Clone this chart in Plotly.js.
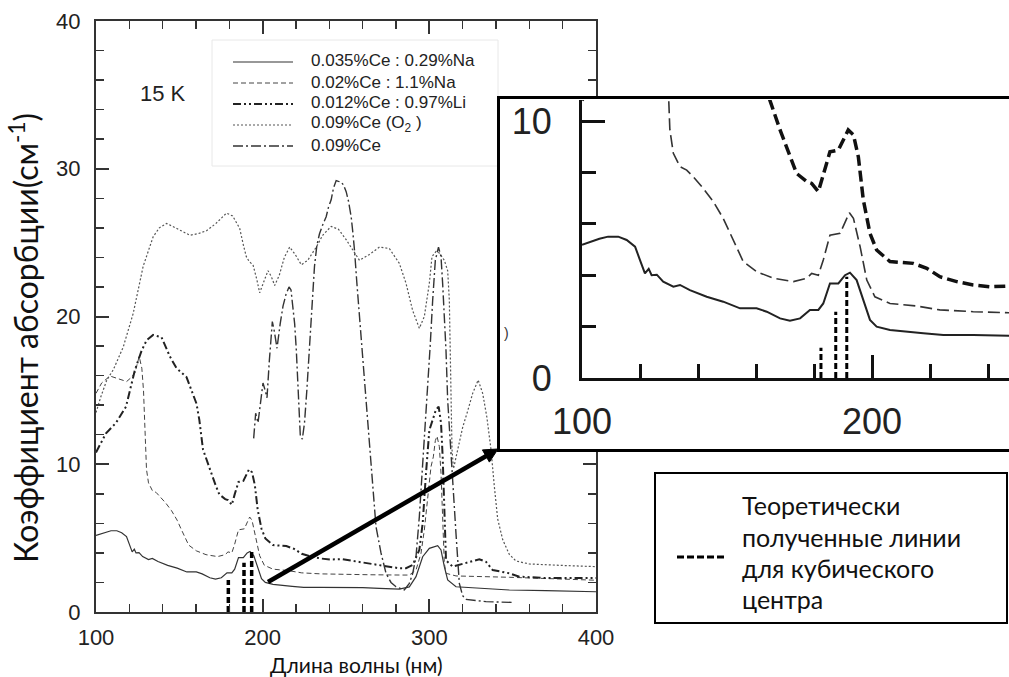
<!DOCTYPE html>
<html><head><meta charset="utf-8">
<script src="https://cdn.plot.ly/plotly-3.0.1.min.js"></script>
<style>html,body{margin:0;padding:0;background:#fff}</style>
</head><body><div id="chart" style="width:1009px;height:677px"></div>
<script>
// ---------- DATA ----------
const seriesNames = ["0.035%Ce : 0.29%Na", "0.02%Ce : 1.1%Na", "0.012%Ce : 0.97%Li", "0.09%Ce (O<sub>2</sub> )", "0.09%Ce"];

const wlA = [100,103,106,109,112.5,115.4,118.3,120,121.7,123,124,125.8,128,131.5,133.8,137.2,143,148.7,154.5,160.2,163.7,168.3,171.7,175.2,178.6,181.5,183.2,185.5,188.4,190.7,192.4,194.7,197,199.3,201.6,206.2,217.7,224.6,234.9,247,260,270,282,288,292,296,300,305,307,309,311,316,330,348,370,400];
const absA = [5.18,5.3,5.42,5.5,5.5,5.37,5.11,4.59,4.07,4.25,4.0,4.02,3.75,3.55,3.62,3.42,3.16,2.97,2.71,2.71,2.58,2.32,2.23,2.32,2.65,2.65,2.9,3.68,3.68,4.0,4.1,3.81,3.03,2.26,2.0,1.87,1.74,1.67,1.67,1.67,1.65,1.6,1.55,1.7,2.39,3.74,4.31,4.49,4.2,3.07,2.17,1.71,1.6,1.49,1.45,1.37];

const wlB = [100,103.4,108.4,113.4,118.4,121.4,123.4,125.9,127.5,128.5,129.5,130.3,131.5,133.8,136.1,138.4,141.8,145.3,148.7,151,155.6,160.2,166,172.9,177.5,179.2,181.5,183.2,185.5,189,190.7,192.2,193.6,195.9,198.2,201,206.2,215.4,223.4,234.9,247.2,265,284,288,292,295,297,299,301,302.4,303.6,304.6,306,307,308,309,310,316,348,400];
const absB = [14.8,15.5,15.97,15.8,15.6,15.9,16.2,17.3,16.5,15.0,12.3,9.65,8.74,8.22,8.09,7.83,7.38,6.86,6.21,5.63,4.53,4.14,3.88,3.75,3.88,4.07,4.0,4.59,5.56,5.63,6.08,6.43,6.21,5.11,3.81,3.16,2.9,2.8,2.65,2.58,2.54,2.52,2.5,2.5,2.84,3.97,5.55,7.58,9.83,10.5,11.6,11.9,11.2,9.4,6.0,3.3,2.62,2.44,2.35,2.15];

const wlC = [100,106,112,118,123.4,127.4,130.4,134.3,139.3,144.3,148.3,154.3,160.3,162,164.2,168.3,171.7,174,177.5,179.2,181.5,183.2,185.5,188.4,190.1,191.8,193.6,195.3,197,199.3,201.6,206.2,214.2,218.9,223.4,229.2,234.9,240.7,247.2,264,282,286,290,294,296,298,300,302,304,305.6,307,308,309,310,314,322,330,334,338,348,354,370,400];
const absC = [10.8,12.1,12.8,13.9,16.4,17.7,18.4,18.75,18.6,17.3,16.5,15.9,14.1,13.0,11.0,9.65,8.6,7.96,7.64,7.57,7.25,7.96,8.8,8.87,9.26,9.65,9.46,8.6,6.93,5.63,4.98,4.53,4.46,4.27,3.94,3.75,3.62,3.55,3.58,3.3,2.96,2.96,3.18,4.2,6.0,9.4,12.3,13.0,13.7,13.9,12.8,10.5,6.0,3.5,3.07,3.3,3.57,3.4,2.84,2.62,2.39,2.3,2.3];

const wlD = [100,103,106.5,110.4,116.4,122.3,128.3,134.3,138,142.3,146,150.3,156.3,161,166.3,172,178.3,182,186.2,188.5,190.2,192,194.2,196.5,198.2,200.5,203.2,205.2,207.2,210,213,216.2,219.5,223.2,227,232.2,236,241.1,245.5,250.1,254,258.1,264.1,270.1,276,282,286,290,294,297,300,301.6,304,306,309,311,312,312.6,313,313.6,314.5,317,320,323,326,329.3,332,334.5,337,339,341,344,348,352,360,380,400];
const absD = [13.5,14.6,15.7,16.4,17.95,20.2,23.4,25.4,26.0,26.3,26.1,25.85,25.5,25.6,25.8,26.3,27.0,26.8,25.97,24.8,24.05,23.7,23.5,22.5,21.6,22.3,23.1,22.7,22.1,22.8,24.0,24.7,24.2,23.5,23.8,24.7,25.5,26.1,25.9,25.2,24.5,23.8,24.2,24.7,24.6,23.6,22.25,20.4,19.2,20.0,22.25,24.05,24.4,24.3,23.8,23.1,21.1,17.7,14.35,11.0,9.7,11.0,12.5,13.6,14.8,15.7,14.8,13.2,11.0,8.5,6.3,4.9,3.9,3.45,3.25,3.15,3.07];

const wlE = [194.6,195.8,197.2,198.5,200.2,201.5,202.6,204,205.8,207,208.6,210.5,212.2,214,215.8,217,218.2,219.2,220.2,221.5,222.6,223.8,225.1,226.5,228.1,229.5,231.1,232.5,234.1,236,238.1,239.5,241.1,242.5,244.1,245.5,247.1,248.5,250.1,251.5,253.1,254,255.1,256.5,258.1,259.5,261.1,262.5,264.1,266,268,271,274,277,280,285,288,290,292,294,296,298.5,300.5,302,303.6,305.5,307,308,309,310,311,312.5,314,316,318,320,322,326,334,350];
const absE = [11.75,13.45,12.8,14.0,15.5,15.0,14.5,17.0,19.65,19.0,17.85,19.5,20.7,21.5,22.0,21.8,20.7,19.5,17.7,14.5,11.9,11.7,12.8,15.0,17.7,20.5,23.4,24.8,25.6,26.2,26.75,27.4,27.9,28.7,29.2,29.15,29.1,28.9,28.45,27.8,26.75,25.8,24.5,22.3,20.0,17.8,15.5,13.4,11.2,8.5,5.77,4.0,2.62,2.0,1.71,1.49,1.94,2.6,3.74,6.45,9.83,14.35,18.0,21.1,23.8,24.7,24.05,22.2,20.0,17.7,14.35,11.5,8.7,5.3,1.94,1.1,0.85,0.8,0.7,0.65];

// theoretical lines for the cubic centre (hand-drawn marks)
const theoryMainWl = [179.4, 188.8, 193.4];
const theoryMainAbs = [2.17, 3.34, 4.2];
const theoryInsetWl = [182.4, 187.5, 191.3];
const theoryInsetAbs = [1.18, 2.58, 3.94];

const mainTickX = [100, 200, 300, 400];
const mainTickY = [0, 10, 20, 30, 40];
const insetTickX = [100, 200];
const insetTickY = [0, 10];

// ---------- helpers ----------
const W = 1009, H = 677;
const P = px => px / W;
const Q = py => 1 - py / H;
function bars(xs, ys) {
  const bx = [], by = [];
  xs.forEach((x, i) => { bx.push(x, x, null); by.push(0, ys[i], null); });
  return {bx, by};
}

const mainStyles = [
  {color: '#333', width: 1.2, dash: 'solid'},
  {color: '#444', width: 1, dash: '5px,3px'},
  {color: '#222', width: 2, dash: '8px,3px,2px,3px,2px,3px'},
  {color: '#555', width: 1.2, dash: '2px,2px'},
  {color: '#333', width: 1.4, dash: '10px,3px,2px,3px'}
];
const wls = [wlA, wlB, wlC, wlD, wlE];
const abss = [absA, absB, absC, absD, absE];

const traces = [];
wls.forEach((w, i) => {
  traces.push({x: w, y: abss[i], type: 'scatter', mode: 'lines', name: seriesNames[i],
    line: mainStyles[i], xaxis: 'x', yaxis: 'y', showlegend: false, hoverinfo: 'skip'});
});
const tm = bars(theoryMainWl, theoryMainAbs);
traces.push({x: tm.bx, y: tm.by, type: 'scatter', mode: 'lines', xaxis: 'x', yaxis: 'y',
  line: {color: '#000', width: 3.5, dash: '6px,3px'}, showlegend: false, hoverinfo: 'skip'});

// white inset panel (covers the main plot)
traces.push({x: [0, 1, 1, 0, 0], y: [0, 0, 1, 1, 0], type: 'scatter', mode: 'lines', fill: 'toself',
  fillcolor: '#fff', line: {width: 0, color: '#fff'}, xaxis: 'x2', yaxis: 'y2', showlegend: false, hoverinfo: 'skip'});

// inset traces
const insetStyles = [
  {color: '#222', width: 2, dash: 'solid'},
  {color: '#333', width: 1.6, dash: '12px,5px'},
  {color: '#111', width: 3.5, dash: '11px,5px'}
];
[0, 1, 2].forEach(i => {
  traces.push({x: wls[i], y: abss[i], type: 'scatter', mode: 'lines', name: seriesNames[i],
    line: insetStyles[i], xaxis: 'x3', yaxis: 'y3', showlegend: false, hoverinfo: 'skip'});
});
const ti = bars(theoryInsetWl, theoryInsetAbs);
traces.push({x: ti.bx, y: ti.by, type: 'scatter', mode: 'lines', xaxis: 'x3', yaxis: 'y3',
  line: {color: '#000', width: 3, dash: '6px,3px'}, showlegend: false, hoverinfo: 'skip'});

const tickFont = {family: 'Liberation Sans, Arial, sans-serif', size: 22, color: '#222'};
const bigFont = {family: 'Liberation Sans, Arial, sans-serif', size: 36, color: '#222'};

const layout = {
  width: W, height: H,
  margin: {l: 0, r: 0, t: 0, b: 0},
  paper_bgcolor: '#fff', plot_bgcolor: 'rgba(0,0,0,0)',
  showlegend: false,
  xaxis: {domain: [P(96), P(596)], range: [100, 400], anchor: 'y',
    tickvals: mainTickX, ticktext: mainTickX.map(String),
    ticks: 'inside', ticklen: 13, tickwidth: 2, tickcolor: '#333',
    minor: {dtick: 20, tick0: 100, ticks: 'inside', ticklen: 8, tickwidth: 1.5, tickcolor: '#333'},
    showline: true, linewidth: 2, linecolor: '#333', mirror: 'ticks',
    showgrid: false, zeroline: false, tickfont: tickFont, ticklabelstandoff: 5},
  yaxis: {domain: [Q(612), Q(21)], range: [0, 40], anchor: 'x',
    tickvals: mainTickY, ticktext: mainTickY.map(String),
    ticks: 'inside', ticklen: 13, tickwidth: 2, tickcolor: '#333',
    minor: {dtick: 2, tick0: 0, ticks: 'inside', ticklen: 8, tickwidth: 1.5, tickcolor: '#333'},
    showline: true, linewidth: 2, linecolor: '#333', mirror: 'ticks',
    showgrid: false, zeroline: false, tickfont: tickFont, ticklabelstandoff: 9},
  xaxis2: {domain: [P(500), 1], range: [0, 1], anchor: 'y2', showline: true, mirror: true,
    linewidth: 3, linecolor: '#000', showticklabels: false, ticks: '', showgrid: false, zeroline: false},
  yaxis2: {domain: [Q(449), Q(99)], range: [0, 1], anchor: 'x2', showline: true, mirror: false,
    linewidth: 3, linecolor: '#000', showticklabels: false, ticks: '', showgrid: false, zeroline: false},
  xaxis3: {domain: [P(582), 1], range: [100, 247.24], anchor: 'y3',
    tickvals: insetTickX, ticktext: insetTickX.map(String),
    ticks: 'inside', ticklen: 23, tickwidth: 3, tickcolor: '#111',
    minor: {dtick: 20, tick0: 100, ticks: 'inside', ticklen: 14, tickwidth: 3, tickcolor: '#111'},
    showline: true, linewidth: 3, linecolor: '#111', mirror: false,
    showgrid: false, zeroline: false, tickfont: bigFont, ticklabelstandoff: 10},
  yaxis3: {domain: [Q(378), Q(100)], range: [0, 10.817], anchor: 'x3',
    tickvals: insetTickY, ticktext: insetTickY.map(String),
    ticks: 'inside', ticklen: 23, tickwidth: 3, tickcolor: '#111',
    minor: {dtick: 2, tick0: 0, ticks: 'inside', ticklen: 14, tickwidth: 3, tickcolor: '#111'},
    showline: true, linewidth: 3, linecolor: '#111', mirror: false,
    showgrid: false, zeroline: false, tickfont: bigFont, ticklabelstandoff: 20},
  shapes: [],
  annotations: []
};

// legend of the main plot
const legendRows = [61, 82, 103, 124, 145];
layout.shapes.push({type: 'rect', xref: 'paper', yref: 'paper', x0: P(212), x1: P(498), y0: Q(166), y1: Q(40),
  line: {color: '#e8e8e8', width: 1}, layer: 'below'});
legendRows.forEach((ry, i) => {
  layout.shapes.push({type: 'line', xref: 'paper', yref: 'paper', x0: P(233), x1: P(293), y0: Q(ry + 1), y1: Q(ry + 1),
    line: {color: mainStyles[i].color, width: mainStyles[i].width, dash: mainStyles[i].dash}});
  layout.annotations.push({xref: 'paper', yref: 'paper', x: P(309), y: Q(ry), xanchor: 'left', yanchor: 'middle',
    text: seriesNames[i], showarrow: false, font: {family: 'Liberation Sans, Arial, sans-serif', size: 17, color: '#222'}});
});
layout.annotations.push({xref: 'paper', yref: 'paper', x: P(163), y: Q(93), xanchor: 'center', yanchor: 'middle',
  text: '15 K', showarrow: false, font: {family: 'Liberation Sans, Arial, sans-serif', size: 22, color: '#222'}});

// axis titles
layout.annotations.push({xref: 'paper', yref: 'paper', x: P(24), y: Q(338), xanchor: 'center', yanchor: 'middle',
  textangle: -90, text: 'Коэффициент абсорбции(см<sup>-1</sup>)', showarrow: false,
  font: {family: 'Lato, sans-serif', size: 32, color: '#111'}});
layout.annotations.push({xref: 'paper', yref: 'paper', x: P(356), y: Q(664), xanchor: 'center', yanchor: 'middle',
  text: 'Длина волны (нм)', showarrow: false, font: {family: 'Lato, sans-serif', size: 21, color: '#111'}});

// stray bracket at the inset edge
layout.annotations.push({xref: 'paper', yref: 'paper', x: P(506), y: Q(333), xanchor: 'center', yanchor: 'middle',
  text: ')', showarrow: false, font: {family: 'Liberation Sans, Arial, sans-serif', size: 14, color: '#333'}});

// arrow from the main plot to the inset (line + head)
layout.shapes.push({type: 'line', xref: 'paper', yref: 'paper', x0: P(268), y0: Q(582), x1: P(488), y1: Q(455),
  line: {color: '#000', width: 4.5}});
layout.shapes.push({type: 'path', xref: 'paper', yref: 'paper',
  path: 'M ' + P(498) + ' ' + Q(449) + ' L ' + P(482.4) + ' ' + Q(449.9) + ' L ' + P(489.4) + ' ' + Q(462.1) + ' Z',
  fillcolor: '#000', line: {color: '#000', width: 1}});

// theory legend box
layout.shapes.push({type: 'rect', xref: 'paper', yref: 'paper', x0: P(655), x1: P(1007), y0: Q(623), y1: Q(473),
  line: {color: '#000', width: 2}, fillcolor: '#fff'});
layout.shapes.push({type: 'line', xref: 'paper', yref: 'paper', x0: P(677), x1: P(727), y0: Q(557), y1: Q(557),
  line: {color: '#000', width: 3, dash: '7px,3px'}});
const theoryText = ['Теоретически', 'полученные линии', 'для кубического', 'центра'];
const theoryRows = [505, 537, 568, 599];
theoryText.forEach((t, i) => {
  layout.annotations.push({xref: 'paper', yref: 'paper', x: P(740), y: Q(theoryRows[i]), xanchor: 'left', yanchor: 'middle',
    text: t, showarrow: false, font: {family: 'Lato, sans-serif', size: 25, color: '#111'}});
});

Plotly.newPlot('chart', traces, layout, {staticPlot: true, displayModeBar: false});
</script></body></html>
